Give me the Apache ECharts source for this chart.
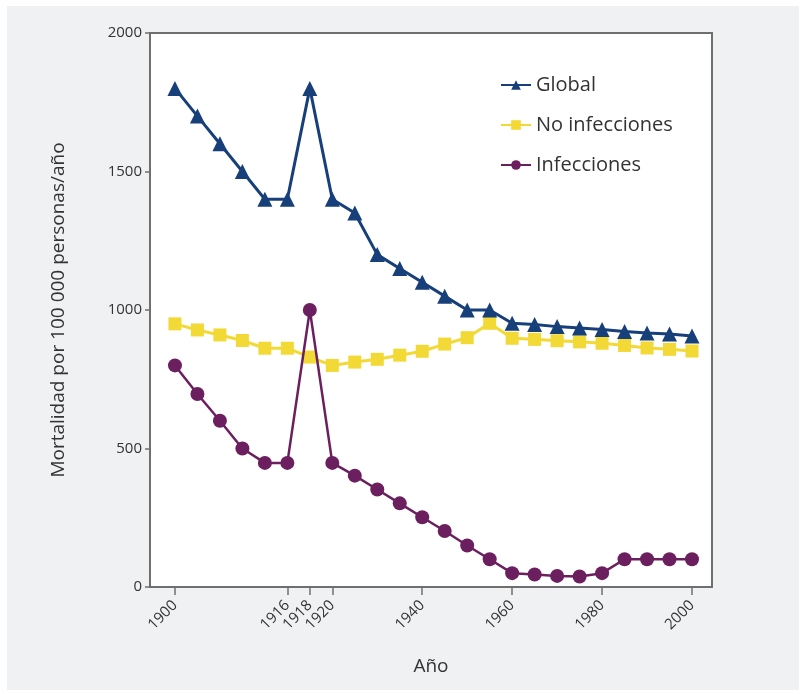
<!DOCTYPE html>
<html>
<head>
<meta charset="utf-8">
<script src="https://cdn.jsdelivr.net/npm/echarts@6/dist/echarts.min.js"></script>
<style>
	html, body { margin: 0; padding: 0; background: #fff; }
	#main { width: 806px; height: 694px; }
</style>
</head>
<body>
<div id="main"></div>
<script>
// years of each data point (placed at equal steps along the x axis)
var years = ['1900', '1904', '1908', '1912', '1914', '1916', '1918', '1920', '1925', '1930', '1935', '1940',
	'1945', '1950', '1955', '1960', '1965', '1970', '1975', '1980', '1985', '1990', '1995', '2000'];
var tick_years = ['1900', '1916', '1918', '1920', '1940', '1960', '1980', '2000'];

var global_vals = [1800, 1700, 1600, 1500, 1400, 1400, 1800, 1400, 1350, 1200, 1150, 1100,
	1050, 1000, 1000, 952, 948, 940, 935, 930, 922, 917, 913, 906];
var noinf_vals = [950, 928, 910, 890, 862, 862, 830, 800, 812, 822, 837, 851,
	877, 900, 952, 898, 894, 889, 885, 880, 872, 863, 858, 852];
var inf_vals = [800, 697, 600, 500, 448, 448, 1000, 448, 402, 352, 302, 252,
	202, 150, 100, 50, 45, 40, 38, 50, 100, 100, 100, 100];

function pairs(vals) {
	var out = [];
	for (var i = 0; i < vals.length; i++) out.push([i, vals[i]]);
	return out;
}

var tick_idx = tick_years.map(function (y) { return years.indexOf(y); });

var chartDom = document.getElementById('main');
var myChart = echarts.init(chartDom);

var txt = '#333';
var axisCol = '#6f6f6f';

var option = {
	animation: false,
	textStyle: { fontFamily: '"Open Sans", "Noto Sans", sans-serif' },
	graphic: [
		{
			type: 'rect',
			shape: { x: 7, y: 6, width: 792, height: 684 },
			style: { fill: '#f0f1f3' },
			z: -10
		}
	],
	grid: {
		left: 150, right: 94, top: 33, bottom: 107,
		show: true,
		backgroundColor: '#fff',
		borderColor: axisCol,
		borderWidth: 2
	},
	legend: {
		left: 495, top: 70,
		orient: 'vertical',
		itemWidth: 30, itemHeight: 12,
		itemGap: 20,
		textStyle: { fontSize: 20, color: txt },
		data: ['Global', 'No infecciones', 'Infecciones']
	},
	xAxis: {
		type: 'value',
		min: -1.11, max: 23.89,
		name: 'Año',
		nameLocation: 'middle',
		nameGap: 70,
		nameTextStyle: { fontSize: 19, color: txt },
		splitLine: { show: false },
		axisLine: { show: true, onZero: false, lineStyle: { color: axisCol, width: 2 } },
		axisTick: { show: true, length: 8, lineStyle: { color: axisCol, width: 1.5 }, customValues: tick_idx },
		axisLabel: {
			customValues: tick_idx,
			rotate: 45,
			fontSize: 15,
			color: txt,
			margin: 16,
			formatter: function (v) { return years[Math.round(v)]; }
		}
	},
	yAxis: {
		type: 'value',
		min: 0, max: 2000, interval: 500,
		name: 'Mortalidad por 100 000 personas/año',
		nameLocation: 'middle',
		nameGap: 82,
		nameTextStyle: { fontSize: 19, color: txt },
		splitLine: { show: false },
		axisLine: { show: true, onZero: false, lineStyle: { color: axisCol, width: 2 } },
		axisTick: { show: true, length: 5, lineStyle: { color: axisCol, width: 1.5 } },
		axisLabel: {
			fontSize: 15, color: txt, margin: 8,
			formatter: function (v) { return String(v); }
		}
	},
	series: [
		{
			name: 'Global',
			type: 'line',
			data: pairs(global_vals),
			symbol: 'triangle',
			symbolSize: 15,
			color: '#173f7a',
			lineStyle: { width: 3, color: '#173f7a' },
			itemStyle: { color: '#173f7a' },
			z: 3
		},
		{
			name: 'No infecciones',
			type: 'line',
			data: pairs(noinf_vals),
			symbol: 'rect',
			symbolSize: 13,
			color: '#f3d935',
			lineStyle: { width: 3, color: '#f3d935' },
			itemStyle: { color: '#f3d935' },
			z: 2
		},
		{
			name: 'Infecciones',
			type: 'line',
			data: pairs(inf_vals),
			symbol: 'circle',
			symbolSize: 14,
			color: '#6c1f5e',
			lineStyle: { width: 2.5, color: '#6c1f5e' },
			itemStyle: { color: '#6c1f5e' },
			z: 4
		}
	]
};

myChart.setOption(option);
</script>
</body>
</html>
